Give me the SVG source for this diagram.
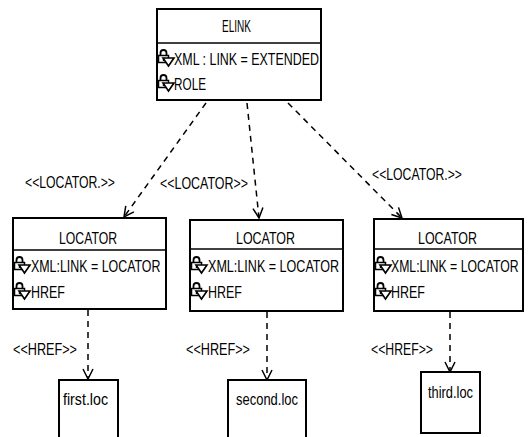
<svg xmlns="http://www.w3.org/2000/svg" width="529" height="437" viewBox="0 0 529 437">
<defs>
<style>
.box{fill:#fff;stroke:#000;stroke-width:2}
.div{stroke:#000;stroke-width:1.5}
.t{font-family:"Liberation Sans",Arial,sans-serif;font-size:17px;fill:#000}
.c{stroke:#000;stroke-width:1.5;stroke-dasharray:6,5;fill:none}
</style>
<marker id="open" viewBox="0 0 12 12" refX="11" refY="6" markerWidth="12" markerHeight="12" markerUnits="userSpaceOnUse" orient="auto">
<polyline points="1,1 11,6 1,11" fill="none" stroke="#000" stroke-width="1.5"/>
</marker>
<g id="icon">
<path d="M2.5,7 V4 a3,3 0 0 1 6,0 V7" fill="none" stroke="#000" stroke-width="1.8"/>
<rect x="0.5" y="6.5" width="10" height="7" fill="#fff" stroke="#000" stroke-width="1.5"/>
<path d="M5,9 L16,9 L10.5,17 Z" fill="#fff" stroke="#000" stroke-width="1.6"/>
<line x1="5.5" y1="9.5" x2="5.5" y2="12" stroke="#000" stroke-width="1.4"/>
</g>
</defs>

<g id="connectors">
<line class="c" x1="206" y1="103" x2="124" y2="217" marker-end="url(#open)"/>
<line class="c" x1="247" y1="103" x2="259" y2="218" marker-end="url(#open)"/>
<line class="c" x1="288" y1="103" x2="402" y2="218" marker-end="url(#open)"/>
<line class="c" x1="88" y1="310" x2="88" y2="379" marker-end="url(#open)"/>
<line class="c" x1="267" y1="312" x2="267" y2="380" marker-end="url(#open)"/>
<line class="c" x1="450" y1="312" x2="450" y2="372" marker-end="url(#open)"/>
<text class="t" x="25" y="188" textLength="90" lengthAdjust="spacingAndGlyphs">&lt;&lt;LOCATOR.&gt;&gt;</text>
<text class="t" x="160" y="189" textLength="88" lengthAdjust="spacingAndGlyphs">&lt;&lt;LOCATOR&gt;&gt;</text>
<text class="t" x="372" y="180" textLength="90" lengthAdjust="spacingAndGlyphs">&lt;&lt;LOCATOR.&gt;&gt;</text>
<text class="t" x="13" y="355" textLength="64" lengthAdjust="spacingAndGlyphs">&lt;&lt;HREF&gt;&gt;</text>
<text class="t" x="186" y="355" textLength="64" lengthAdjust="spacingAndGlyphs">&lt;&lt;HREF&gt;&gt;</text>
<text class="t" x="371" y="355" textLength="62" lengthAdjust="spacingAndGlyphs">&lt;&lt;HREF&gt;&gt;</text>
</g>

<g id="elink">
<rect class="box" x="157" y="9" width="164" height="91"/>
<line class="div" x1="157" y1="43" x2="321" y2="43"/>
<text class="t" x="222" y="32" textLength="29" lengthAdjust="spacingAndGlyphs">ELINK</text>
<use href="#icon" x="158" y="49"/>
<text class="t" x="174" y="65" textLength="145" lengthAdjust="spacingAndGlyphs">XML : LINK = EXTENDED</text>
<use href="#icon" x="158" y="74"/>
<text class="t" x="174" y="90" textLength="32" lengthAdjust="spacingAndGlyphs">ROLE</text>
</g>

<g id="locator1">
<rect class="box" x="13" y="218" width="153" height="91"/>
<line class="div" x1="13" y1="250" x2="166" y2="250"/>
<text class="t" x="59" y="244" textLength="58" lengthAdjust="spacingAndGlyphs">LOCATOR</text>
<use href="#icon" x="14" y="256"/>
<text class="t" transform="translate(31,272) scale(0.73,1)">XML:LINK = LOCATOR</text>
<use href="#icon" x="14" y="282"/>
<text class="t" x="31" y="298" textLength="34" lengthAdjust="spacingAndGlyphs">HREF</text>
</g>

<g id="locator2">
<rect class="box" x="190" y="220" width="153" height="91"/>
<line class="div" x1="190" y1="249" x2="343" y2="249"/>
<text class="t" x="236" y="244" textLength="59" lengthAdjust="spacingAndGlyphs">LOCATOR</text>
<use href="#icon" x="191" y="256"/>
<text class="t" transform="translate(208,272) scale(0.74,1)">XML:LINK = LOCATOR</text>
<use href="#icon" x="191" y="282"/>
<text class="t" x="208" y="298" textLength="34" lengthAdjust="spacingAndGlyphs">HREF</text>
</g>

<g id="locator3">
<rect class="box" x="374" y="219" width="149" height="92"/>
<line class="div" x1="374" y1="249" x2="523" y2="249"/>
<text class="t" x="418" y="244" textLength="59" lengthAdjust="spacingAndGlyphs">LOCATOR</text>
<use href="#icon" x="375" y="256"/>
<text class="t" transform="translate(391,272) scale(0.72,1)">XML:LINK = LOCATOR</text>
<use href="#icon" x="375" y="282"/>
<text class="t" x="391" y="298" textLength="34" lengthAdjust="spacingAndGlyphs">HREF</text>
</g>

<g id="first">
<rect class="box" x="59" y="380" width="59" height="70"/>
<text class="t" x="63" y="405" textLength="45" lengthAdjust="spacingAndGlyphs">first.loc</text>
</g>
<g id="second">
<rect class="box" x="228" y="380" width="78" height="70"/>
<text class="t" x="236" y="405" textLength="62" lengthAdjust="spacingAndGlyphs">second.loc</text>
</g>
<g id="third">
<rect class="box" x="421" y="372" width="59" height="61"/>
<text class="t" x="428" y="398" textLength="45" lengthAdjust="spacingAndGlyphs">third.loc</text>
</g>
</svg>
